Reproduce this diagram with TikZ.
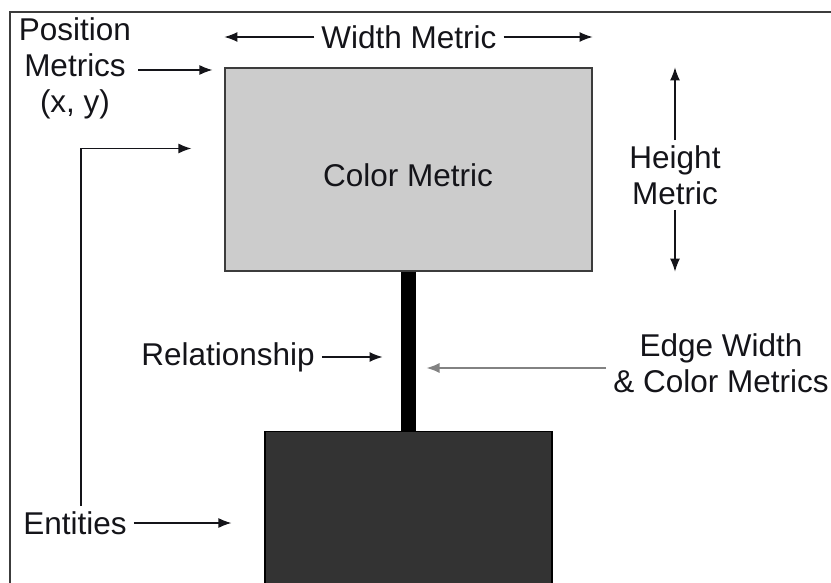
\documentclass[tikz,border=0pt]{standalone}
\usepackage{fontspec}
\setmainfont{Liberation Sans}
\usepackage{tikz}
\usetikzlibrary{arrows.meta, positioning, calc}
\definecolor{mydark}{RGB}{20,20,25}
\definecolor{myframe}{RGB}{60,60,60}
\definecolor{boxgray}{RGB}{204,204,204}
\definecolor{boxdark}{RGB}{51,51,51}
\definecolor{arrowgray}{RGB}{130,130,130}
\tikzset{
  label/.style={align=center, inner xsep=7pt, inner ysep=5pt, text=mydark,
    font=\fontsize{31.5}{36}\selectfont},
  graybox/.style={rectangle, draw=myframe, fill=boxgray, line width=1.2pt,
    minimum width=367pt, minimum height=203pt, inner sep=0pt},
  darkbox/.style={rectangle, draw=black, fill=boxdark, line width=1.2pt,
    minimum width=287pt, minimum height=180pt, inner sep=0pt},
  edgebar/.style={line width=15pt, color=black},
  arrow/.style={-{Latex[length=13pt, width=10pt]}, line width=1.2pt, color=mydark},
  grayarrow/.style={-{Latex[length=13pt, width=10pt]}, line width=1.5pt, color=arrowgray},
  frameline/.style={line width=1.4pt, color=myframe}
}
\begin{document}
\begin{tikzpicture}[x=1pt, y=-1pt]
  \useasboundingbox (0,0) rectangle (831,583);

  % Frame
  \draw[frameline] (10,620) -- (10,12) -- (840,12);

  % Nodes
  \node[graybox] (colorbox) at (408.5,169.5) {};
  \node[label] (colormetric) at (408,175) {Color Metric};
  \node[darkbox, anchor=north] (entitybox) at (408.5,431) {};
  \node[label] (widthmetric) at (409,37) {Width Metric};
  \node[label] (heightmetric) at (675,175) {Height\\Metric};
  \node[label] (posmetrics) at (75,68) {Position\\Metrics\\(x, y)};
  \node[label] (entities) at (75,523) {Entities};
  \node[label] (relationship) at (228,357) {Relationship};
  \node[label] (edgemetrics) at (721,363) {Edge Width\\\& Color Metrics};

  % Relationship edge
  \draw[edgebar] (colorbox.south) -- coordinate[pos=0.54] (edgemid) (entitybox.north);

  % Arrows
  \draw[arrow] (widthmetric.west) -- (colorbox.north west |- widthmetric.west);
  \draw[arrow] (widthmetric.east) -- (colorbox.north east |- widthmetric.east);
  \draw[arrow] (heightmetric.north) -- (heightmetric.north |- colorbox.north);
  \draw[arrow] (heightmetric.south) -- (heightmetric.south |- colorbox.south);
  \draw[arrow, shorten >=12pt] ([yshift=-2pt]posmetrics.east) -- ([yshift=-2pt]posmetrics.east -| colorbox.west);
  \draw[arrow, shorten >=33pt] (entities.east) -- (entities.east -| entitybox.west);
  \draw[arrow, shorten >=33pt] ([xshift=6pt]entities.north) |- ([yshift=21pt]colorbox.west);
  \draw[arrow, shorten >=26pt] (relationship.east) -- (relationship.east -| edgemid);
  \draw[grayarrow, shorten >=18pt] ([yshift=-5pt]edgemetrics.west) -- ([yshift=-5pt]edgemetrics.west -| edgemid);
\end{tikzpicture}
\end{document}
